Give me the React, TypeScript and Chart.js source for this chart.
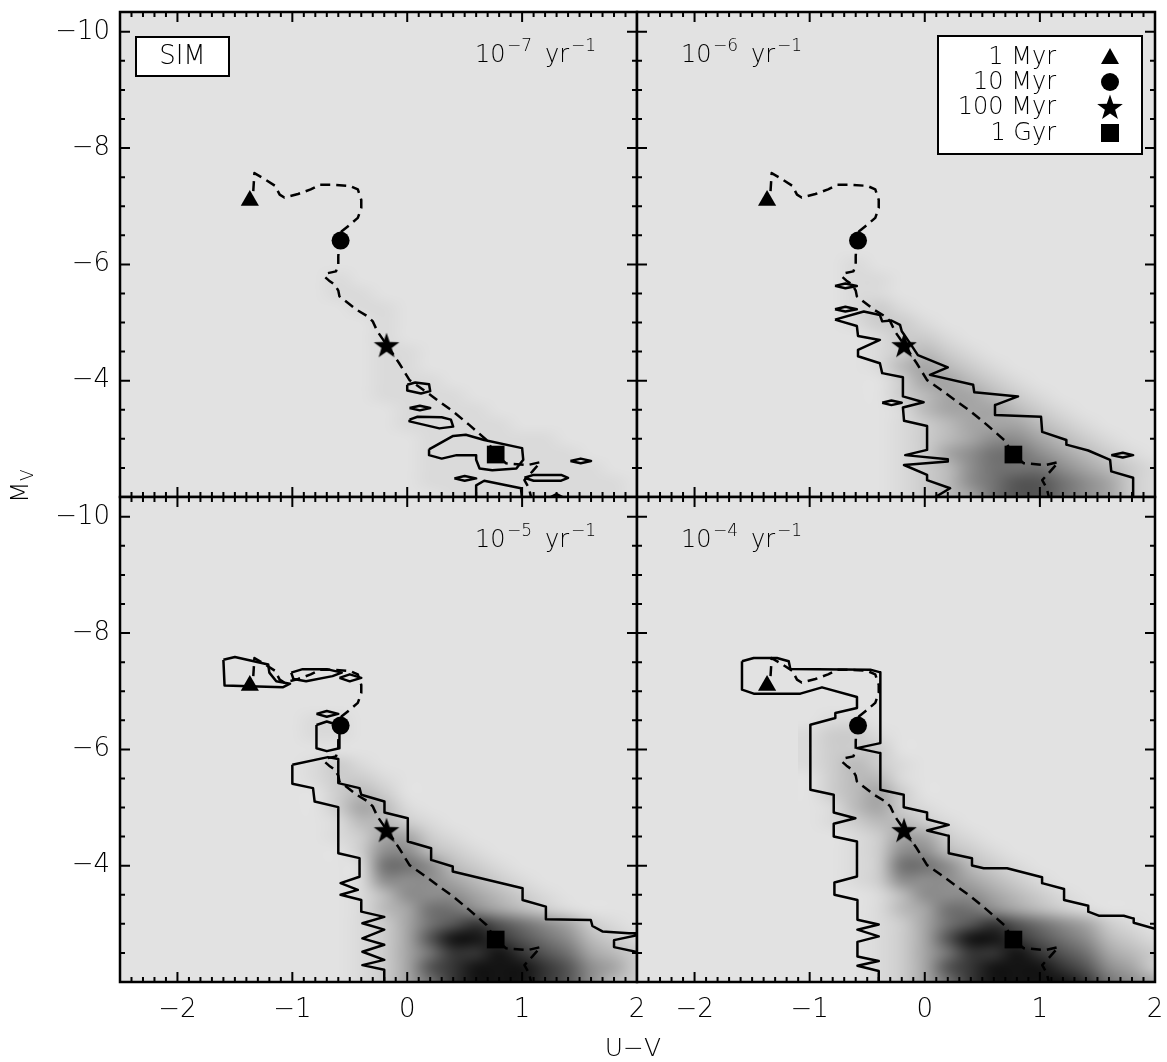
import React, { useEffect, useRef } from 'react';
import { Chart, registerables } from 'chart.js';

Chart.register(...registerables);

type Pt = [number, number];

// ------------------------------------------------------------------ data
const X_MIN = -2.5;
const X_MAX = 2.0;
const Y_MIN = -10.34;
const Y_MAX = -2.0;
const X_TICKS = [-2, -1, 0, 1, 2];
const Y_TICKS = [-10, -8, -6, -4];
const X_TITLE = 'U\u2212V';
const Y_TITLE = 'M';
const Y_TITLE_SUB = 'V';
const RATE_EXPONENTS = ['\u22127', '\u22126', '\u22125', '\u22124'];
const SIM_LABEL = 'SIM';

const AGE_LABELS = ['1 Myr', '10 Myr', '100 Myr', '1 Gyr'];
const AGE_POINTS: Pt[] = [[-1.37, -7.1], [-0.58, -6.41], [-0.18, -4.61], [0.77, -2.73]];

const TRACK: Pt[] = [
  [-1.34, -7.26], [-1.33, -7.57], [-1.26, -7.49], [-1.15, -7.35], [-1.11, -7.2], [-1.07, -7.15],
  [-0.95, -7.21], [-0.84, -7.29], [-0.76, -7.37], [-0.65, -7.37], [-0.5, -7.35], [-0.43, -7.29],
  [-0.4, -7.11], [-0.4, -6.97], [-0.43, -6.8], [-0.5, -6.68], [-0.57, -6.57], [-0.59, -6.42],
  [-0.6, -6.14], [-0.6, -5.99], [-0.62, -5.88], [-0.69, -5.85], [-0.72, -5.79], [-0.68, -5.72],
  [-0.63, -5.65], [-0.6, -5.55], [-0.59, -5.45], [-0.44, -5.22], [-0.34, -5.1], [-0.3, -5.02],
  [-0.26, -4.85], [-0.18, -4.62], [-0.07, -4.3], [0.02, -4.01], [0.165, -3.81], [0.28, -3.64],
  [0.4, -3.47], [0.54, -3.24], [0.69, -2.98], [0.77, -2.73], [0.86, -2.58], [1.05, -2.55],
  [1.16, -2.6], [1.09, -2.44], [1.02, -2.29], [1.06, -2.15], [1.08, -1.98],
];

// density grid (0 = none, 9 = darkest)
const DENSITY_X = [-1.0, -0.8, -0.6, -0.4, -0.2, 0.0, 0.2, 0.4, 0.6, 0.8, 1.0, 1.2, 1.4, 1.6, 1.8, 2.0];
const DENSITY_Y = [-6.75, -6.5, -6.25, -6.0, -5.75, -5.5, -5.25, -5.0, -4.75, -4.5, -4.25, -4.0, -3.75, -3.5, -3.25, -3.0, -2.75, -2.5, -2.25, -2.0];

const DENSITY_1 = [
  '0000000000000000',
  '0000000000000000',
  '0000000000000000',
  '0000000000000000',
  '0010000000000000',
  '0011000000000000',
  '0001100000000000',
  '0000100000000000',
  '0000100000000000',
  '0000110000000000',
  '0000110000000000',
  '0000111000000000',
  '0000111100000000',
  '0000011110000000',
  '0000011111000000',
  '0000001111110000',
  '0000001111111000',
  '0000001111111100',
  '0000001111111110',
  '0000000111111110',
];

const DENSITY_2 = [
  '0000000000000000',
  '0000000000000000',
  '0000000000000000',
  '0010000000000000',
  '0011000000000000',
  '0011000000000000',
  '0012100000000000',
  '0012210000000000',
  '0001221000000000',
  '0001232100000000',
  '0001343210000000',
  '0000244321000000',
  '0000234432100000',
  '0000134443210000',
  '0000123444321000',
  '0000123455432100',
  '0000124566543210',
  '0000123566654321',
  '0000123567765421',
  '0000123467765421',
];

const DENSITY_3 = [
  '0000000000000000',
  '0110000000000000',
  '0110000000000000',
  '0000000000000000',
  '0121000000000000',
  '0122100000000000',
  '0023200000000000',
  '0024310000000000',
  '0013321000000000',
  '0012442100000000',
  '0002553210000000',
  '0001665321000000',
  '0001555432100000',
  '0001355543210000',
  '0001346654321000',
  '0001246787654210',
  '0001247998765321',
  '0001246889876432',
  '0001247899987542',
  '0001246899987532',
];

const DENSITY_4 = [
  '0000000000000000',
  '0110000000000000',
  '1221000000000000',
  '1222000000000000',
  '1232100000000000',
  '0233100000000000',
  '0234200000000000',
  '0134210000000000',
  '0123321000000000',
  '0012442100000000',
  '0012553210000000',
  '0012665321000000',
  '0012555432100000',
  '0001355543210000',
  '0001346654321000',
  '0001246787654210',
  '0001247998765321',
  '0001246889876432',
  '0001247899987542',
  '0001246899998654',
];

const CONTOURS_1: Pt[][] = [
  [[0.0, -3.93], [0.07, -3.97], [0.19, -3.94], [0.2, -3.82], [0.12, -3.78], [0.0, -3.83], [0.0, -3.93]],
  [[0.02, -3.53], [0.11, -3.57], [0.2, -3.53], [0.11, -3.49], [0.02, -3.53]],
  [[0.02, -3.33], [0.09, -3.38], [0.3, -3.37], [0.38, -3.33], [0.4, -3.21], [0.28, -3.18], [0.02, -3.3], [0.02, -3.33]],
  [[0.19, -2.82], [0.4, -3.05], [0.51, -3.07], [0.67, -2.98], [1.0, -2.84], [1.01, -2.64], [0.95, -2.49], [0.74, -2.46],
    [0.63, -2.49], [0.6, -2.64], [0.6, -2.72], [0.43, -2.72], [0.3, -2.66], [0.19, -2.72], [0.19, -2.82]],
  [[0.41, -2.32], [0.5, -2.36], [0.6, -2.32], [0.5, -2.28], [0.41, -2.32]],
  [[0.6, -1.95], [0.6, -2.2], [0.67, -2.28], [0.99, -2.15], [1.0, -1.95]],
  [[1.02, -2.33], [1.1, -2.38], [1.34, -2.38], [1.4, -2.33], [1.34, -2.28], [1.1, -2.28], [1.02, -2.33]],
  [[1.42, -2.62], [1.51, -2.66], [1.6, -2.62], [1.51, -2.58], [1.42, -2.62]],
  [[1.2, -1.95], [1.3, -2.05], [1.4, -1.95]],
];

const CONTOURS_2: Pt[][] = [
  [[-0.78, -5.05], [-0.53, -5.19], [-0.39, -5.13], [-0.37, -5.02], [-0.29, -5.035], [-0.215, -4.96], [-0.2, -4.85],
    [-0.12, -4.62], [-0.06, -4.44], [0.2, -4.23], [0.045, -4.1], [0.42, -3.93], [0.43, -3.8], [0.81, -3.73],
    [0.61, -3.58], [0.61, -3.41], [1.01, -3.38], [1.02, -3.12], [1.23, -2.98], [1.23, -2.9], [1.42, -2.8],
    [1.61, -2.64], [1.62, -2.44], [1.81, -2.33], [1.81, -1.95], [0.05, -1.95], [0.22, -2.15], [0.02, -2.29],
    [0.02, -2.38], [-0.18, -2.55], [0.2, -2.61], [0.2, -2.65], [-0.17, -2.72], [0.02, -2.81], [0.02, -3.22],
    [-0.18, -3.31], [-0.19, -3.54], [-0.01, -3.63], [-0.19, -3.73], [-0.19, -4.06], [-0.37, -4.13], [-0.39, -4.3],
    [-0.58, -4.42], [-0.58, -4.53], [-0.39, -4.7], [-0.58, -4.77], [-0.59, -4.94], [-0.78, -5.05]],
  [[-0.78, -5.63], [-0.69, -5.67], [-0.59, -5.63], [-0.69, -5.59], [-0.78, -5.63]],
  [[-0.78, -5.23], [-0.69, -5.27], [-0.59, -5.23], [-0.69, -5.19], [-0.78, -5.23]],
  [[-0.37, -3.62], [-0.29, -3.66], [-0.2, -3.62], [-0.29, -3.58], [-0.37, -3.62]],
  [[1.62, -2.72], [1.72, -2.76], [1.81, -2.72], [1.72, -2.68], [1.62, -2.72]],
];

const CONTOURS_3: Pt[][] = [
  [[-1.6, -7.54], [-1.5, -7.59], [-1.21, -7.46], [-1.2, -7.32], [-1.14, -7.17], [-1.02, -7.13], [-1.08, -7.07],
    [-1.59, -7.1], [-1.6, -7.54]],
  [[-1.01, -7.32], [-0.91, -7.38], [-0.7, -7.38], [-0.57, -7.32], [-0.65, -7.26], [-0.88, -7.17], [-0.99, -7.21], [-1.01, -7.32]],
  [[-0.59, -7.23], [-0.5, -7.29], [-0.4, -7.23], [-0.5, -7.17], [-0.59, -7.23]],
  [[-0.79, -6.61], [-0.7, -6.66], [-0.6, -6.61], [-0.7, -6.56], [-0.79, -6.61]],
  [[-0.79, -6.42], [-0.7, -6.48], [-0.59, -6.41], [-0.59, -6.02], [-0.7, -5.97], [-0.79, -6.02], [-0.79, -6.42]],
  [[-1.0, -5.735], [-0.69, -5.867], [-0.6, -5.833], [-0.6, -5.42], [-0.415, -5.334], [-0.4, -5.219], [-0.198, -5.104],
    [-0.198, -4.915], [0.005, -4.817], [0.005, -4.415], [0.208, -4.3], [0.208, -4.1], [0.396, -3.985], [0.396, -3.899],
    [1.004, -3.612], [1.004, -3.41], [1.207, -3.296], [1.207, -3.078], [1.598, -3.067], [1.612, -2.963], [1.699, -2.87],
    [1.93, -2.84], [2.06, -2.84], [2.06, -2.83], [1.8, -2.72], [1.8, -2.6], [2.06, -2.49], [2.06, -1.95],
    [-0.2, -1.95], [-0.2, -2.21], [-0.39, -2.29], [-0.2, -2.38], [-0.39, -2.52], [-0.2, -2.64], [-0.39, -2.75],
    [-0.2, -2.9], [-0.39, -3.01], [-0.2, -3.12], [-0.4, -3.21], [-0.4, -3.41], [-0.58, -3.5], [-0.43, -3.585],
    [-0.58, -3.7], [-0.415, -3.81], [-0.415, -4.13], [-0.6, -4.215], [-0.6, -5.007], [-0.806, -5.104],
    [-0.82, -5.334], [-1.0, -5.408], [-1.0, -5.735]],
];

const CONTOURS_4: Pt[][] = [
  [[-1.588, -7.515], [-1.486, -7.572], [-1.284, -7.572], [-1.182, -7.515], [-1.168, -7.383], [-0.473, -7.371],
    [-0.386, -7.325], [-0.386, -6.108], [-0.589, -6.022], [-0.386, -5.936], [-0.386, -5.305], [-0.183, -5.219],
    [-0.183, -5.006], [0.02, -4.915], [0.02, -4.8], [0.208, -4.702], [0.02, -4.605], [0.208, -4.513], [0.208, -4.215],
    [0.41, -4.128], [0.41, -4.002], [0.512, -3.956], [0.715, -3.956], [1.019, -3.8], [1.019, -3.7], [1.21, -3.6],
    [1.21, -3.41], [1.42, -3.31], [1.42, -3.21], [1.511, -3.14], [1.728, -3.14], [1.815, -3.09], [1.815, -3.02],
    [2.0, -2.915], [2.06, -2.88], [2.06, -1.95],
    [-0.4, -1.95], [-0.4, -2.19], [-0.585, -2.28], [-0.4, -2.36], [-0.585, -2.44], [-0.585, -2.69], [-0.4, -2.785],
    [-0.585, -2.9], [-0.4, -2.99], [-0.585, -3.07], [-0.585, -3.41], [-0.785, -3.5], [-0.785, -3.71], [-0.589, -3.813],
    [-0.589, -4.415], [-0.791, -4.502], [-0.791, -4.72], [-0.603, -4.817], [-0.791, -4.915], [-0.791, -5.219],
    [-0.994, -5.305], [-0.994, -6.424], [-0.777, -6.539], [-0.777, -6.625], [-0.589, -6.711], [-0.589, -6.9],
    [-0.893, -7.067], [-1.081, -6.958], [-1.486, -6.958], [-1.588, -7.027], [-1.588, -7.515]],
];

// ------------------------------------------------------------------ layout / style
const FIG_W = 1167;
const FIG_H = 1062;
const FONT = 'DejaVu Sans';
const FONT_WEIGHT = '200';
const BG = 226;
const Y_AXIS_W = 100;
const X_AXIS_H = 60;

interface PanelCfg {
  left: number; top: number; right: number; bottom: number;
  yLabels: boolean; xLabels: boolean;
  density: string[]; contours: Pt[][]; exponent: string;
  rateX: number; sim: boolean; legend: boolean; titles: boolean;
}

const PANELS: PanelCfg[] = [
  { left: 120, top: 12, right: 637, bottom: 497, yLabels: true, xLabels: false, density: DENSITY_1, contours: CONTOURS_1, exponent: RATE_EXPONENTS[0], rateX: 355, sim: true, legend: false, titles: false },
  { left: 637, top: 12, right: 1155, bottom: 497, yLabels: false, xLabels: false, density: DENSITY_2, contours: CONTOURS_2, exponent: RATE_EXPONENTS[1], rateX: 44, sim: false, legend: true, titles: false },
  { left: 120, top: 497, right: 637, bottom: 982, yLabels: true, xLabels: true, density: DENSITY_3, contours: CONTOURS_3, exponent: RATE_EXPONENTS[2], rateX: 355, sim: false, legend: false, titles: true },
  { left: 637, top: 497, right: 1155, bottom: 982, yLabels: false, xLabels: true, density: DENSITY_4, contours: CONTOURS_4, exponent: RATE_EXPONENTS[3], rateX: 44, sim: false, legend: false, titles: false },
];

const fmt = (v: number) => (v < 0 ? '\u2212' + Math.abs(v) : String(v));
const font = (size: number) => `${FONT_WEIGHT} ${size}px "${FONT}"`;
const grayFor = (v: number) => (v <= 0 ? BG : Math.round(BG - 206 * Math.pow(v / 9, 1.5)));

function makeStar(size: number): HTMLCanvasElement {
  const c = document.createElement('canvas');
  c.width = size; c.height = size;
  const g = c.getContext('2d')!;
  const R = size / 2 - 0.5;
  const r = R * 0.4;
  const cx = size / 2, cy = size / 2 + R * 0.08;
  g.fillStyle = '#000';
  g.beginPath();
  for (let i = 0; i < 10; i++) {
    const ang = -Math.PI / 2 + (i * Math.PI) / 5;
    const rad = i % 2 === 0 ? R : r;
    g.lineTo(cx + rad * Math.cos(ang), cy + rad * Math.sin(ang));
  }
  g.closePath();
  g.fill();
  return c;
}

function drawSymbol(ctx: CanvasRenderingContext2D, kind: number, x: number, y: number, star: HTMLCanvasElement) {
  ctx.fillStyle = '#000';
  ctx.beginPath();
  if (kind === 0) {
    ctx.moveTo(x, y - 9); ctx.lineTo(x + 9, y + 7); ctx.lineTo(x - 9, y + 7); ctx.closePath(); ctx.fill();
  } else if (kind === 1) {
    ctx.arc(x, y, 9, 0, Math.PI * 2); ctx.fill();
  } else if (kind === 2) {
    ctx.drawImage(star, x - star.width / 2, y - star.height / 2);
  } else {
    ctx.fillRect(x - 9, y - 9, 18, 18);
  }
}

function drawRate(ctx: CanvasRenderingContext2D, x: number, base: number, exp: string) {
  ctx.fillStyle = '#000';
  ctx.textAlign = 'left';
  ctx.textBaseline = 'alphabetic';
  ctx.font = font(24);
  ctx.fillText('10', x, base);
  ctx.font = font(17);
  ctx.fillText(exp, x + 32, base - 11);
  ctx.font = font(24);
  ctx.fillText('yr', x + 70, base);
  ctx.font = font(17);
  ctx.fillText('\u22121', x + 96, base - 11);
}

function panelPlugin(p: PanelCfg, star: HTMLCanvasElement) {
  return {
    id: 'panelDecor',
    beforeDatasetsDraw(chart: any) {
      const { ctx, chartArea: a } = chart;
      const xs = chart.scales.x, ys = chart.scales.y;
      ctx.save();
      ctx.fillStyle = `rgb(${BG},${BG},${BG})`;
      ctx.fillRect(a.left, a.top, a.right - a.left, a.bottom - a.top);
      const nx = DENSITY_X.length, ny = DENSITY_Y.length;
      const off = document.createElement('canvas');
      off.width = nx; off.height = ny;
      const g = off.getContext('2d')!;
      const img = g.createImageData(nx, ny);
      for (let j = 0; j < ny; j++) {
        for (let i = 0; i < nx; i++) {
          const c = grayFor(Number(p.density[j][i]));
          const k = (j * nx + i) * 4;
          img.data[k] = c; img.data[k + 1] = c; img.data[k + 2] = c; img.data[k + 3] = 255;
        }
      }
      g.putImageData(img, 0, 0);
      const dx = DENSITY_X[1] - DENSITY_X[0];
      const dy = DENSITY_Y[1] - DENSITY_Y[0];
      const x0 = xs.getPixelForValue(DENSITY_X[0] - dx / 2);
      const x1 = xs.getPixelForValue(DENSITY_X[nx - 1] + dx / 2);
      const y0 = ys.getPixelForValue(DENSITY_Y[0] - dy / 2);
      const y1 = ys.getPixelForValue(DENSITY_Y[ny - 1] + dy / 2);
      ctx.beginPath();
      ctx.rect(a.left, a.top, a.right - a.left, a.bottom - a.top);
      ctx.clip();
      ctx.imageSmoothingEnabled = true;
      ctx.imageSmoothingQuality = 'high';
      ctx.drawImage(off, x0, Math.min(y0, y1), x1 - x0, Math.abs(y1 - y0));
      ctx.restore();
    },
    afterDatasetsDraw(chart: any) {
      const { ctx, chartArea: a } = chart;
      const xs = chart.scales.x, ys = chart.scales.y;
      ctx.save();
      ctx.strokeStyle = '#000';
      ctx.lineWidth = 2;
      ctx.lineCap = 'butt';
      ctx.beginPath();
      for (let k = Math.ceil(Y_MIN / 0.5); k * 0.5 <= Y_MAX + 1e-9; k++) {
        const py = ys.getPixelForValue(k * 0.5);
        const len = k % 4 === 0 ? 10 : 5;
        ctx.moveTo(a.left, py); ctx.lineTo(a.left + len, py);
        ctx.moveTo(a.right - len, py); ctx.lineTo(a.right, py);
      }
      for (let k = Math.ceil(X_MIN * 10 - 1e-9); k <= Math.floor(X_MAX * 10 + 1e-9); k++) {
        const px = xs.getPixelForValue(k / 10);
        const len = k % 10 === 0 ? 10 : 5;
        ctx.moveTo(px, a.top); ctx.lineTo(px, a.top + len);
        ctx.moveTo(px, a.bottom - len); ctx.lineTo(px, a.bottom);
      }
      ctx.stroke();
      ctx.lineWidth = 2.5;
      ctx.strokeRect(a.left, a.top, a.right - a.left, a.bottom - a.top);

      drawRate(ctx, a.left + p.rateX, a.top + 50, p.exponent);

      if (p.sim) {
        ctx.fillStyle = '#fff';
        ctx.fillRect(a.left + 16, a.top + 25, 93, 39);
        ctx.lineWidth = 2;
        ctx.strokeRect(a.left + 16, a.top + 25, 93, 39);
        ctx.fillStyle = '#000';
        ctx.font = font(26);
        ctx.textAlign = 'center';
        ctx.textBaseline = 'middle';
        ctx.fillText(SIM_LABEL, a.left + 62.5, a.top + 45);
      }
      if (p.legend) {
        const bx = a.left + 301, by = a.top + 24;
        ctx.fillStyle = '#fff';
        ctx.fillRect(bx, by, 204, 118);
        ctx.lineWidth = 2;
        ctx.strokeRect(bx, by, 204, 118);
        const rows = [45, 70, 95, 121];
        ctx.font = font(24);
        ctx.textAlign = 'right';
        ctx.textBaseline = 'middle';
        AGE_LABELS.forEach((lab, i) => {
          ctx.fillStyle = '#000';
          ctx.fillText(lab, a.left + 419, a.top + rows[i] + 1);
          drawSymbol(ctx, i, a.left + 473, a.top + rows[i], star);
        });
      }
      ctx.restore();
    },
    afterDraw(chart: any) {
      if (!p.titles) return;
      const ctx = chart.ctx;
      ctx.save();
      ctx.fillStyle = '#000';
      ctx.font = font(25);
      ctx.textAlign = 'center';
      ctx.textBaseline = 'alphabetic';
      ctx.fillText(X_TITLE, 633, 1056);
      ctx.translate(28, 503);
      ctx.rotate(-Math.PI / 2);
      ctx.textAlign = 'left';
      ctx.font = font(25);
      ctx.fillText(Y_TITLE, 0, 0);
      ctx.font = font(17);
      ctx.fillText(Y_TITLE_SUB, 22, 5);
      ctx.restore();
    },
  };
}

function buildConfig(p: PanelCfg, star: HTMLCanvasElement): any {
  const styles: any[] = ['triangle', 'circle', star, 'rect'];
  const radii = [10.5, 9, 14, 12.5];
  const datasets: any[] = [];
  AGE_POINTS.forEach((pt, i) => {
    datasets.push({
      label: AGE_LABELS[i],
      data: [{ x: pt[0], y: pt[1] }],
      pointStyle: styles[i],
      pointRadius: radii[i],
      pointHoverRadius: radii[i],
      pointBackgroundColor: '#000',
      pointBorderColor: '#000',
      pointBorderWidth: 0,
      showLine: false,
      clip: 0,
    });
  });
  datasets.push({
    label: 'track',
    data: TRACK.map(([x, y]) => ({ x, y })),
    showLine: true,
    borderColor: '#000',
    borderWidth: 2.5,
    borderDash: [10, 6],
    borderJoinStyle: 'round',
    pointRadius: 0,
    pointHoverRadius: 0,
    fill: false,
    tension: 0,
    clip: 0,
  });
  p.contours.forEach((c, i) => {
    datasets.push({
      label: 'contour' + i,
      data: c.map(([x, y]) => ({ x, y })),
      showLine: true,
      borderColor: '#000',
      borderWidth: 2.5,
      borderJoinStyle: 'round',
      pointRadius: 0,
      pointHoverRadius: 0,
      fill: false,
      tension: 0,
      clip: 0,
    });
  });

  const zeroPad = (s: any) => { s.paddingLeft = 0; s.paddingRight = 0; s.paddingTop = 0; s.paddingBottom = 0; };
  const tickFont = { family: FONT, size: 26, weight: FONT_WEIGHT };

  return {
    type: 'scatter',
    data: { datasets },
    options: {
      responsive: false,
      animation: false,
      devicePixelRatio: 1,
      events: [],
      layout: {
        autoPadding: false,
        padding: {
          left: p.left - (p.yLabels ? Y_AXIS_W : 0),
          right: FIG_W - p.right,
          top: p.top,
          bottom: FIG_H - p.bottom - (p.xLabels ? X_AXIS_H : 0),
        },
      },
      plugins: { legend: { display: false }, tooltip: { enabled: false }, title: { display: false } },
      scales: {
        x: {
          type: 'linear', position: 'bottom', min: X_MIN, max: X_MAX, display: p.xLabels,
          grid: { display: false, drawTicks: false }, border: { display: false },
          ticks: { padding: 13, color: '#000', font: tickFont, autoSkip: false, maxRotation: 0, minRotation: 0, callback: (v: any) => fmt(Number(v)) },
          afterBuildTicks: (s: any) => { s.ticks = X_TICKS.map((v) => ({ value: v })); },
          afterFit: (s: any) => { if (p.xLabels) s.height = X_AXIS_H; zeroPad(s); },
        },
        y: {
          type: 'linear', position: 'left', reverse: true, min: Y_MIN, max: Y_MAX, display: p.yLabels,
          grid: { display: false, drawTicks: false }, border: { display: false },
          ticks: { padding: 10, color: '#000', font: tickFont, autoSkip: false, callback: (v: any) => fmt(Number(v)) },
          afterBuildTicks: (s: any) => { s.ticks = Y_TICKS.map((v) => ({ value: v })); },
          afterFit: (s: any) => { if (p.yLabels) s.width = Y_AXIS_W; zeroPad(s); },
        },
      },
    },
    plugins: [panelPlugin(p, star)],
  };
}

function Panel({ cfg }: { cfg: PanelCfg }) {
  const ref = useRef<HTMLCanvasElement>(null);
  useEffect(() => {
    const star = makeStar(28);
    const chart = new Chart(ref.current as HTMLCanvasElement, buildConfig(cfg, star));
    return () => chart.destroy();
  }, [cfg]);
  return (
    <canvas
      ref={ref}
      width={FIG_W}
      height={FIG_H}
      style={{ position: 'absolute', left: 0, top: 0, width: FIG_W, height: FIG_H, pointerEvents: 'none' }}
    />
  );
}

export default function App() {
  return (
    <div style={{ position: 'absolute', left: 0, top: 0, width: FIG_W, height: FIG_H, background: '#fff', overflow: 'hidden' }}>
      {PANELS.map((p, i) => (
        <Panel key={i} cfg={p} />
      ))}
    </div>
  );
}
